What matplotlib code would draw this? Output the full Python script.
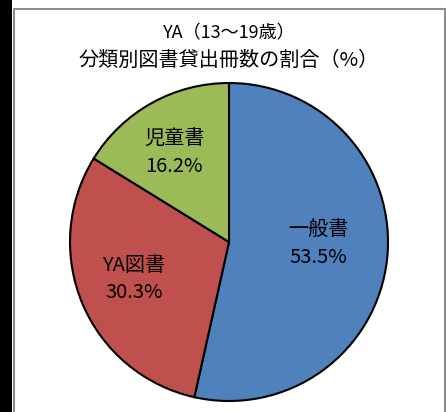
import matplotlib
matplotlib.use("Agg")
import matplotlib.pyplot as plt
from matplotlib.patches import Rectangle

plt.rcParams["font.family"] = ["Noto Sans CJK JP", "DejaVu Sans"]

# data
categories = ["一般書", "YA図書", "児童書"]
shares = [53.5, 30.3, 16.2]
colors = ["#4F81BD", "#C0504D", "#9BBB59"]
title_lines = ["YA（13～19歳）", "分類別図書貸出冊数の割合（%）"]

W, H = 446, 412
fig = plt.figure(figsize=(W / 100, H / 100), dpi=100)
fig.patch.set_facecolor("white")

# black strip on the left and gray chart-area frame
fig.add_artist(Rectangle((0, 0), 12 / W, 1, transform=fig.transFigure,
                         facecolor="black", edgecolor="none"))
fig.add_artist(Rectangle((14.5 / W, -0.05), (445 - 14.5) / W, (H - 8.5) / H + 0.05,
                         transform=fig.transFigure, facecolor="none",
                         edgecolor="#8c8c8c", linewidth=1.5))

# pie: center (229, 242), radius 159 px
cx, cy, r = 229, 242, 159
ax = fig.add_axes([(cx - r) / W, (H - cy - r) / H, 2 * r / W, 2 * r / H])
wedges, _ = ax.pie(shares, colors=colors, startangle=90, counterclock=False,
                   radius=1.0,
                   wedgeprops=dict(edgecolor="black", linewidth=1.5))
ax.set_xlim(-1, 1)
ax.set_ylim(-1, 1)
ax.set_aspect("equal")
ax.axis("off")

# labels (pixel positions from the reference)
label_pos = [(318, 244), (134, 279), (174, 153)]
for name, val, (px, py) in zip(categories, shares, label_pos):
    fig.text(px / W, 1 - py / H, f"{name}\n{val:.1f}%", ha="center", va="center",
             fontsize=14.5, linespacing=1.4, color="black")

fig.text(229 / W, 1 - 33 / H, title_lines[0], ha="center", va="center", fontsize=13)
fig.text(229 / W, 1 - 60 / H, title_lines[1], ha="center", va="center", fontsize=14.5)

fig.savefig("out.png", dpi=100)
